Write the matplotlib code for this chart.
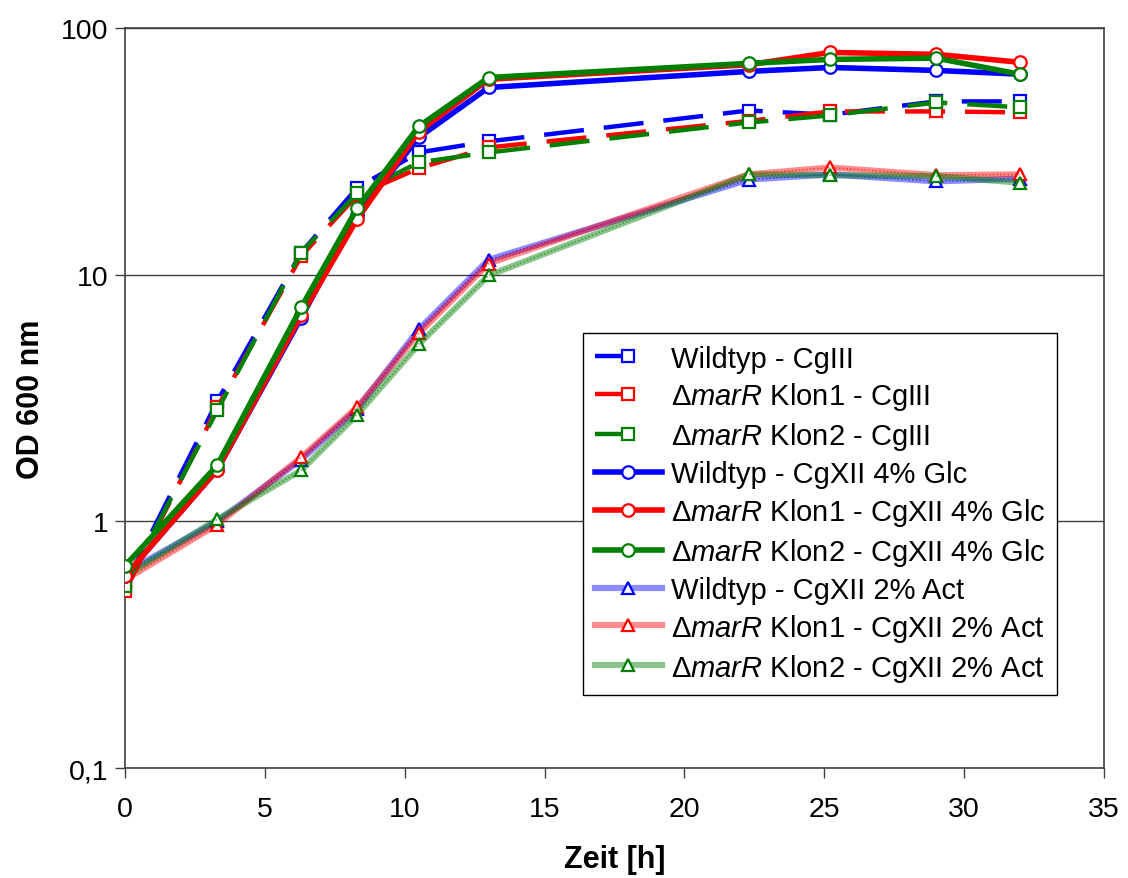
import matplotlib
matplotlib.use("Agg")
import matplotlib.pyplot as plt
from matplotlib.lines import Line2D
from matplotlib.ticker import FixedLocator, FixedFormatter, NullLocator

plt.rcParams['font.family'] = ['Liberation Sans', 'DejaVu Sans']
plt.rcParams['mathtext.fontset'] = 'custom'
plt.rcParams['mathtext.rm'] = 'Liberation Sans'
plt.rcParams['mathtext.it'] = 'Liberation Sans:italic'

# ---- data ----
zeit = [0, 3.3, 6.3, 8.3, 10.5, 13, 22.3, 25.2, 29, 32]

wt_cg3 = [0.55, 3.07, 12.3, 22.5, 31.3, 34.7, 46.3, 44.5, 50.4, 50.4]
k1_cg3 = [0.52, 2.9, 11.9, 21.0, 27.0, 32.8, 42.0, 45.9, 45.9, 45.5]
k2_cg3 = [0.545, 2.82, 12.3, 21.4, 28.5, 31.3, 41.4, 44.2, 49.9, 47.7]

wt_glc = [0.6, 1.62, 6.7, 17.5, 36.0, 57.4, 66.7, 69.2, 67.3, 65.0]
k1_glc = [0.6, 1.62, 6.84, 16.8, 38.0, 62.0, 71.0, 79.6, 78.2, 72.6]
k2_glc = [0.66, 1.69, 7.37, 18.6, 39.9, 63.0, 71.9, 74.6, 75.5, 64.9]

wt_act = [0.62, 1.0, 1.78, 2.85, 6.0, 11.5, 24.3, 25.5, 23.9, 24.5]
k1_act = [0.58, 0.97, 1.82, 2.9, 5.78, 11.1, 25.5, 27.2, 25.3, 25.5]
k2_act = [0.6, 1.02, 1.61, 2.71, 5.22, 9.93, 25.5, 25.3, 25.1, 23.6]

labels = [
    "Wildtyp - CgIII",
    "Δ$\\it{marR}$ Klon1 - CgIII",
    "Δ$\\it{marR}$ Klon2 - CgIII",
    "Wildtyp - CgXII 4% Glc",
    "Δ$\\it{marR}$ Klon1 - CgXII 4% Glc",
    "Δ$\\it{marR}$ Klon2 - CgXII 4% Glc",
    "Wildtyp - CgXII 2% Act",
    "Δ$\\it{marR}$ Klon1 - CgXII 2% Act",
    "Δ$\\it{marR}$ Klon2 - CgXII 2% Act",
]
y_ticks = [0.1, 1, 10, 100]
y_ticklabels = ["0,1", "1", "10", "100"]
x_ticks = [0, 5, 10, 15, 20, 25, 30, 35]

colors = ["#0000FF", "#FF0000", "#008000"]

fig = plt.figure(figsize=(11.28, 8.79), dpi=100)
ax = fig.add_axes([0.1108, 0.1251, 0.868, 0.8419])

ms = 8.5
mew = 1.6
act_h, cg3_h, glc_h = [], [], []

# CgXII 2% Act (textured pale lines)
for i, series in enumerate([wt_act, k1_act, k2_act]):
    c = colors[i]
    h, = ax.plot(zeit, series, color=matplotlib.colors.to_rgba(c, 0.45), lw=4.5,
                 marker='^', ms=ms + 0.5, mfc='white', mec=c, mew=mew,
                 label=labels[6 + i], zorder=2 + i * 0.1)
    ax.plot(zeit, series, color=matplotlib.colors.to_rgba(c, 0.55), lw=1.2,
            ls=(0, (1, 1.2)), zorder=2.05 + i * 0.1)
    act_h.append(h)

# CgIII dashed
for i, series in enumerate([wt_cg3, k1_cg3, k2_cg3]):
    c = colors[i]
    ax.plot(zeit, series, color=c, lw=3.2, dashes=(9, 4.5),
            dash_capstyle='butt',
            marker='s', ms=ms, mfc='white', mec=c, mew=mew, zorder=3 + i * 0.1)
    proxy = Line2D([], [], color=c, lw=3.2, dashes=(7.2, 100), dash_capstyle='butt',
                   marker='s', ms=ms, mfc='white', mec=c, mew=mew, label=labels[i])
    cg3_h.append(proxy)

# CgXII 4% Glc solid
for i, series in enumerate([wt_glc, k1_glc, k2_glc]):
    c = colors[i]
    h, = ax.plot(zeit, series, color=c, lw=4.0,
                 marker='o', ms=ms + 0.5, mfc='white', mec=c, mew=mew,
                 label=labels[3 + i], zorder=4 + i * 0.1)
    glc_h.append(h)

handles = cg3_h + glc_h + act_h

ax.set_yscale('log')
ax.set_xlim(0, 35)
ax.set_ylim(0.1, 100)
ax.yaxis.set_major_locator(FixedLocator(y_ticks))
ax.yaxis.set_major_formatter(FixedFormatter(y_ticklabels))
ax.yaxis.set_minor_locator(NullLocator())
ax.set_xticks(x_ticks)
ax.set_xticklabels([str(v) for v in x_ticks])

ax.yaxis.grid(True, which='major', color='#404040', lw=1.0)
ax.set_axisbelow(True)
for sp in ax.spines.values():
    sp.set_color('#404040')
    sp.set_linewidth(1.2)

ax.tick_params(axis='both', direction='out', length=7, width=1.0, color='#404040',
               labelsize=20.5)
ax.tick_params(axis='x', pad=13)
ax.tick_params(axis='y', pad=5)

ax.set_xlabel("Zeit [h]", fontsize=22, fontweight='bold', labelpad=16)
ax.set_ylabel("OD 600 nm", fontsize=22, fontweight='bold', labelpad=11)

leg = ax.legend(handles=handles, loc='upper left', bbox_to_anchor=(0.468, 0.588),
                borderaxespad=0, fontsize=21, frameon=True, fancybox=False,
                edgecolor='black', framealpha=1, handlelength=2.3,
                handletextpad=0.3, labelspacing=0.27, borderpad=0.4)
leg.get_frame().set_linewidth(1.0)
leg.set_zorder(10)

fig.savefig("out.png", dpi=100)
